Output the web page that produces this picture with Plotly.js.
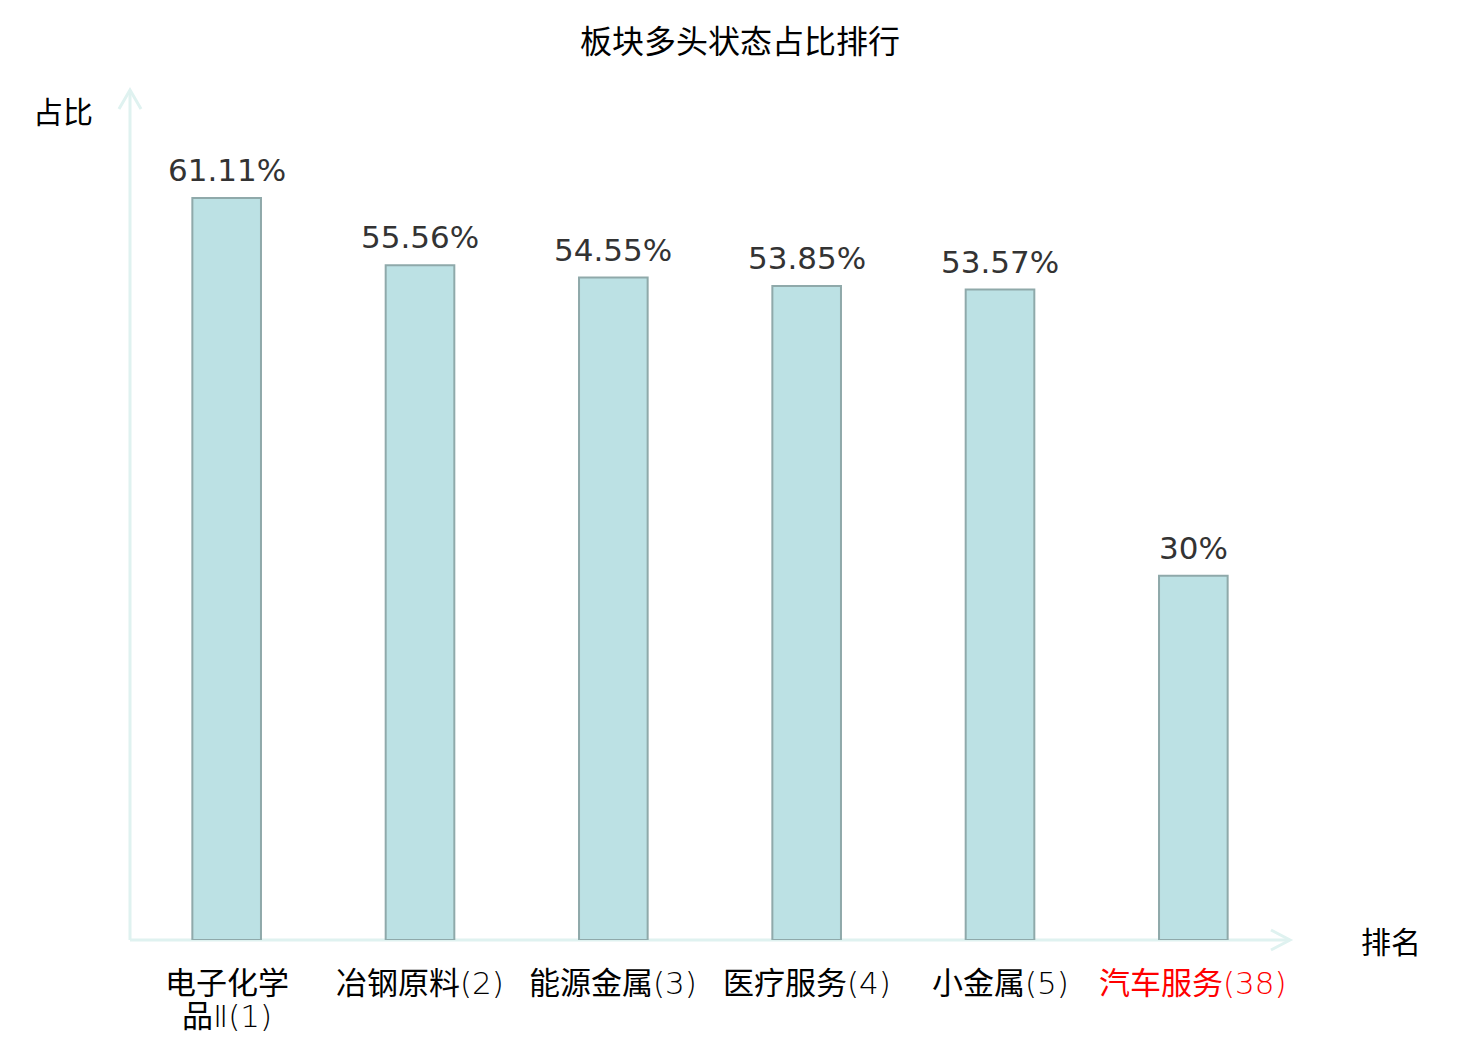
<!DOCTYPE html>
<html>
<head>
<meta charset="utf-8">
<script src="https://cdn.plot.ly/plotly-3.0.1.min.js"></script>
<style>
  html, body { margin: 0; padding: 0; background: #fff; }
  #chart { width: 1480px; height: 1040px; }
</style>
</head>
<body>
<div id="chart"></div>
<script>
// sector names, their rank and the share of bullish stocks (%)
var sectors = ['电子化学品Ⅱ', '冶钢原料', '能源金属', '医疗服务', '小金属', '汽车服务'];
var ranks = [1, 2, 3, 4, 5, 38];
var shares = [61.11, 55.56, 54.55, 53.85, 53.57, 30];

var cjk = '"Noto Sans CJK SC", "Noto Sans", sans-serif';
var axisColor = '#dff2f0';

// latin bits of the tick labels are drawn in a thin face
function thin(str) {
  return str.replace(/([^\u4e00-\u9fff]+)/g,
    '<span style="font-family:\'DejaVu Sans\';font-weight:200">$1</span>');
}

var trace = {
  x: sectors,
  y: shares,
  type: 'bar',
  width: 0.355,
  marker: {
    color: '#bce1e4',
    line: { color: '#8fa9aa', width: 2 }
  },
  hoverinfo: 'x+y'
};

var annotations = [];

// value labels above the bars
sectors.forEach(function (s, i) {
  annotations.push({
    x: s, y: shares[i], xref: 'x', yref: 'y',
    text: shares[i] + '%',
    showarrow: false, yanchor: 'bottom', yshift: 8,
    font: { family: 'DejaVu Sans', size: 31, color: '#333333' }
  });
});

// category labels under the axis (the last one is red), long names wrap
sectors.forEach(function (s, i) {
  var full = s + '(' + ranks[i] + ')';
  var lines = s.length > 5 ? [s.slice(0, 4), s.slice(4) + '(' + ranks[i] + ')'] : [full];
  lines.forEach(function (ln, k) {
    annotations.push({
      x: s, y: 0, xref: 'x', yref: 'paper',
      text: thin(ln),
      showarrow: false, yanchor: 'middle', yshift: -40 - 33 * k,
      font: { family: cjk, size: 31, color: i === sectors.length - 1 ? '#ff0000' : '#000000' }
    });
  });
});

// axis names
annotations.push({
  x: -0.0578, y: 1.0, xref: 'paper', yref: 'paper',
  text: '占比', showarrow: false, xanchor: 'center', yanchor: 'middle', yshift: -20,
  font: { family: cjk, size: 30, color: '#000000' }
});
annotations.push({
  x: 1.087, y: 0, xref: 'paper', yref: 'paper',
  text: '排名', showarrow: false, xanchor: 'center', yanchor: 'middle',
  font: { family: cjk, size: 30, color: '#000000' }
});

var layout = {
  width: 1480,
  height: 1040,
  margin: { l: 130, r: 190, t: 90, b: 100 },
  paper_bgcolor: '#ffffff',
  plot_bgcolor: '#ffffff',
  showlegend: false,
  title: {
    text: '板块多头状态占比排行',
    x: 0.5, xref: 'container', xanchor: 'center',
    y: 0.96, yanchor: 'middle',
    font: { family: cjk, size: 32, color: '#000000' }
  },
  xaxis: {
    showline: false, showgrid: false, zeroline: false,
    showticklabels: false, ticks: ''
  },
  yaxis: {
    range: [0, 70],
    showline: false, showgrid: false, zeroline: false,
    showticklabels: false, ticks: ''
  },
  annotations: annotations,
  shapes: [
    // y axis with open arrow head
    { type: 'line', xref: 'paper', yref: 'paper', x0: 0, x1: 0, y0: 0, y1: 1,
      layer: 'below', line: { color: axisColor, width: 3 } },
    { type: 'path', xref: 'paper', yref: 'paper', layer: 'below',
      path: 'M -0.0095 0.9776 L 0 1 L 0.0095 0.9776',
      line: { color: axisColor, width: 3 } },
    // x axis with open arrow head
    { type: 'line', xref: 'paper', yref: 'paper', x0: 0, x1: 1, y0: 0, y1: 0,
      layer: 'below', line: { color: axisColor, width: 3 } },
    { type: 'path', xref: 'paper', yref: 'paper', layer: 'below',
      path: 'M 0.9836 0.0118 L 1 0 L 0.9836 -0.0118',
      line: { color: axisColor, width: 3 } }
  ]
};

Plotly.newPlot('chart', [trace], layout, { displayModeBar: false });
</script>
</body>
</html>
